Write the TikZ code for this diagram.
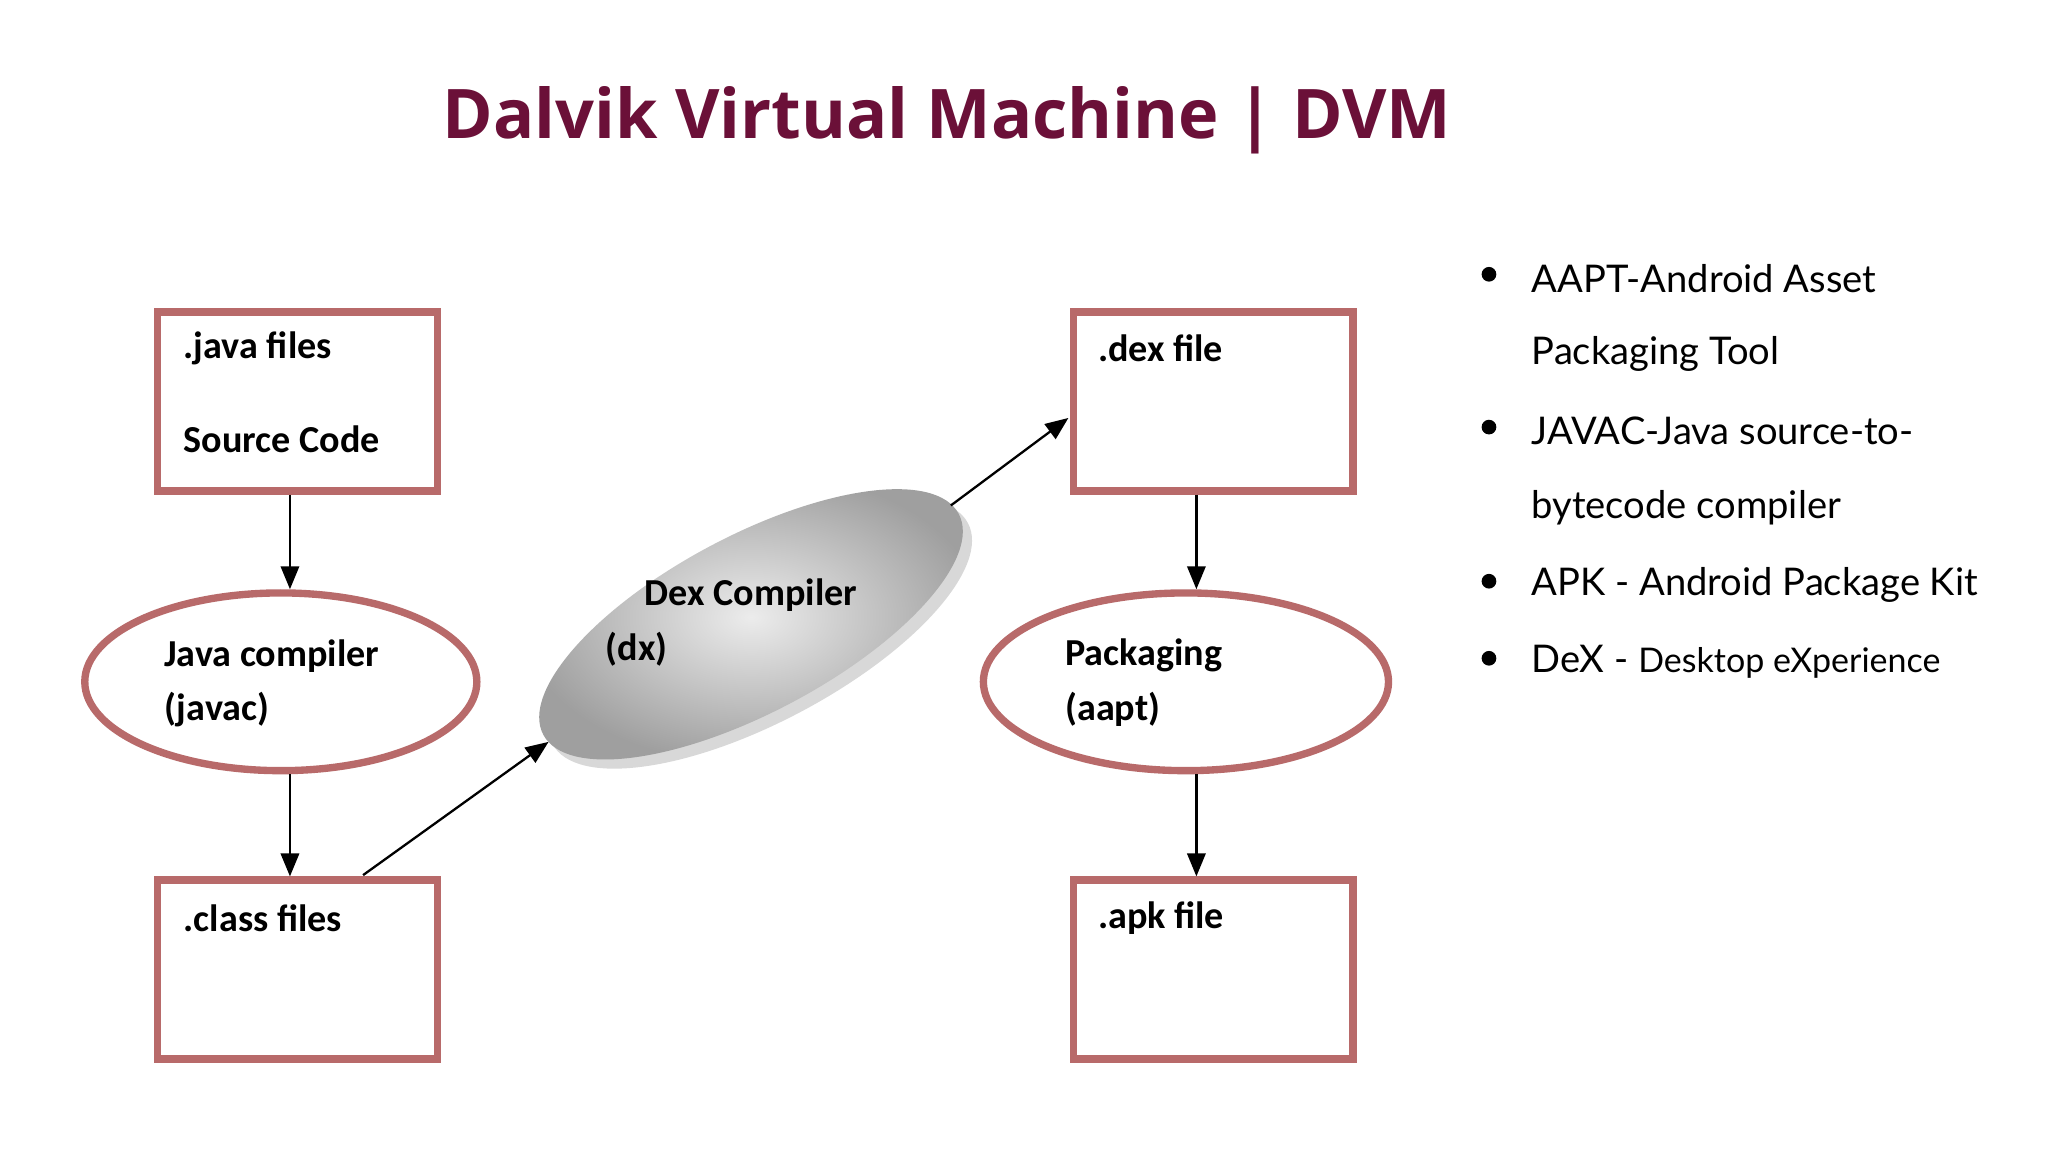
\documentclass[tikz,border=0pt]{standalone}
\usepackage{fontspec}
\setmainfont{Open Sans}
\newfontfamily\carfont{Carlito}
\newfontfamily\latfont{Lato}
\usetikzlibrary{shapes.geometric,arrows.meta,shadows}
\definecolor{tit}{HTML}{6B1038}
\definecolor{brd}{HTML}{B86A6A}
\begin{document}
\begin{tikzpicture}[x=0.01cm,y=-0.01cm,
 boxst/.style={draw=brd,line width=1.6pt,minimum width=2.14cm,minimum height=1.37cm,anchor=north west},
 ellst/.style={draw=brd,line width=1.6pt,ellipse},
 lbl/.style={font=\carfont\bfseries\fontsize{8.3}{10}\selectfont,anchor=west,inner sep=0},
 bul/.style={font=\latfont\fontsize{8.3}{10}\selectfont,anchor=west,inner sep=0},
 arr/.style={-{Triangle[length=5pt,width=4pt]},line width=0.5pt}]
\useasboundingbox[fill=white] (0,0) rectangle (1568,882);
\node[font=\bfseries\fontsize{14.9}{18}\selectfont,text=tit] (title) at (725,92) {Dalvik Virtual Machine | DVM};
\node[boxst] (java) at (118,236) {};
\node[boxst] (dex) at (819,236) {};
\node[boxst] (cls) at (118,671) {};
\node[boxst] (apk) at (819,671) {};
\node[ellst,minimum width=3.0cm,minimum height=1.36cm] (jc) at (215,522) {};
\node[ellst,minimum width=3.1cm,minimum height=1.36cm] (pk) at (908,522) {};
\node[ellipse,minimum width=3.6cm,minimum height=1.35cm,rotate=28,shading=radial,inner color=gray!15,outer color=gray!75,drop shadow={shadow xshift=2pt,shadow yshift=-2pt,fill=gray!60}] (dc) at (575,478) {};
\node[lbl] (t1) at (140,267) {.java files};
\node[lbl] (t2) at (140,336) {Source Code};
\node[lbl] (t3) at (840,267) {.dex file};
\node[lbl] (t4) at (140,703) {.class files};
\node[lbl] (t5) at (840,703) {.apk file};
\node[lbl] (t6) at (125,502) {Java compiler};
\node[lbl] (t7) at (125,543) {(javac)};
\node[lbl] (t8) at (815,502) {Packaging};
\node[lbl] (t9) at (815,543) {(aapt)};
\node[lbl] (t10) at (493,456) {Dex Compiler};
\node[lbl] (t11) at (463,497) {(dx)};
\coordinate (c1) at (278,670);
\coordinate (c2) at (420,568);
\coordinate (c3) at (728,387);
\coordinate (c4) at (818,320);
\draw[arr] (java.south -| 222,0) -- (jc.north -| 222,0);
\draw[arr] (jc.south -| 222,0) -- (cls.north -| 222,0);
\draw[arr] (c1) -- (c2);
\draw[arr] (c3) -- (c4);
\draw[arr] (dex.south -| 916,0) -- (pk.north -| 916,0);
\draw[arr] (pk.south -| 916,0) -- (apk.north -| 916,0);
\foreach \y/\t [count=\i] in {213/AAPT-Android Asset, 271/Packaging Tool, 330/JAVAC-Java source-to-, 389/bytecode compiler, 448/APK - Android Package Kit}{
 \node[bul] (b\i) at (1172,\y) {\t};}
\node[bul] (b6) at (1172,507) {DeX - {\fontsize{7.4}{9}\selectfont Desktop eXperience}};
\foreach \y [count=\i] in {213,330,448,507}{
 \fill (1140,\y-3) circle (1.6pt);}
\end{tikzpicture}
\end{document}
